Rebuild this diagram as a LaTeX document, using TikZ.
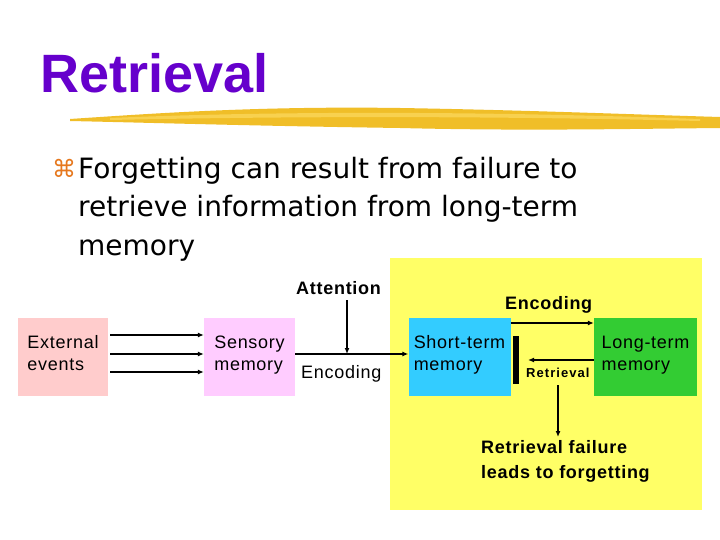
\documentclass[tikz,border=0pt]{standalone}
\usepackage{fontspec}
\setmainfont{Liberation Sans}
\newfontfamily\lab[LetterSpace=4]{Liberation Sans}
\newfontfamily\labwide[LetterSpace=8]{Liberation Sans}
\newfontfamily\body{DejaVu Sans}
\usetikzlibrary{arrows.meta,positioning}
\definecolor{titlepurple}{RGB}{102,0,204}
\definecolor{brushgold}{RGB}{240,190,40}
\definecolor{brushlight}{RGB}{252,218,96}
\definecolor{bulletorange}{RGB}{230,120,30}
\definecolor{bgyellow}{RGB}{255,255,102}
\definecolor{extpink}{RGB}{255,204,204}
\definecolor{senpink}{RGB}{255,204,255}
\definecolor{stmblue}{RGB}{51,204,255}
\definecolor{ltmgreen}{RGB}{51,204,51}

\begin{document}
\begin{tikzpicture}[x=1pt,y=-1pt,
    box/.style={rectangle, inner sep=0pt, minimum height=78pt, align=left, text depth=8pt,
      font=\lab\fontsize{18}{22}\selectfont},
    arr/.style={line width=1.3pt, -{Latex[length=6pt,width=5pt]}},
    lbl/.style={inner sep=0pt, anchor=base west, font=\lab\fontsize{18}{22}\selectfont},
    bodyline/.style={inner sep=0pt, anchor=base west, font=\body\fontsize{28}{34}\selectfont}]
    \useasboundingbox (0,0) rectangle (720,540);
    \fill[white] (0,0) rectangle (720,540);
    % title
    \node[anchor=base west, inner sep=0pt, text=titlepurple, font=\fontsize{54}{60}\selectfont\bfseries] (title) at (40,93) {Retrieval};
    \fill[brushgold] (70,119) .. controls (160,113) and (260,106) .. (400,108) .. controls (520,110) and (620,114) .. (720,117)
        -- (720,128) .. controls (620,129) and (520,131) .. (400,128) .. controls (260,126) and (160,123) .. (70,121) -- cycle;
    \fill[brushlight, opacity=.7] (110,118) .. controls (250,112) and (450,110) .. (700,119)
        -- (700,121) .. controls (450,115) and (250,117) .. (110,120) -- cycle;
    % bullet text
    \node[anchor=base west, inner sep=0pt, text=bulletorange, font=\body\fontsize{24}{28}\selectfont] (bul) at (52,178) {⌘};
    \node[bodyline] (l1) at (78,179) {Forgetting can result from failure to};
    \node[bodyline] (l2) at (78,217) {retrieve information from long-term};
    \node[bodyline] (l3) at (78,255) {memory};
    % diagram
    \fill[bgyellow] (390,258) rectangle (702,510);
    \node[box, fill=extpink, minimum width=90pt] (ext) at (63,357) {External\\events};
    \node[box, fill=senpink, minimum width=91pt] (sen) at (249.5,357) {Sensory\\memory};
    \node[box, fill=stmblue, minimum width=102pt] (stm) at (459.5,357) {Short-term\\memory};
    \node[box, fill=ltmgreen, minimum width=103pt] (ltm) at (645.5,357) {Long-term\\memory};
    \node[fill=black, inner sep=0pt, minimum width=6pt, minimum height=48pt] (bar) at (516,360) {};
    \foreach \dy in {22,3,-15}
        \draw[arr] ([xshift=2pt,yshift=\dy pt]ext.east) -- ([yshift=\dy pt]sen.west);
    \draw[arr] ([yshift=3pt]sen.east) -- ([yshift=3pt]stm.west);
    \node[lbl, font=\lab\fontsize{18}{22}\selectfont\bfseries] (att) at (296,294) {Attention};
    \coordinate (join) at (347,354);
    \draw[arr, shorten <=6pt] (join |- att.south) -- (join);
    \node[lbl] (encl) at (301,378) {Encoding};
    \draw[arr] ([yshift=34pt]stm.east) -- ([yshift=34pt]ltm.west);
    \node[lbl, font=\lab\fontsize{18}{22}\selectfont\bfseries] (encr) at (505,309) {Encoding};
    \coordinate (ret) at (528,360);
    \draw[arr] ([yshift=-3pt]ltm.west) -- (ret);
    \node[lbl, font=\labwide\fontsize{13}{14}\selectfont\bfseries] (retl) at (526,377) {Retrieval};
    \coordinate (drop) at (558,385);
    \node[inner sep=0pt, anchor=north west, align=left, font=\lab\fontsize{18}{25}\selectfont\bfseries] (fail) at (481,440) {Retrieval failure\\leads to forgetting};
    \draw[arr, shorten >=3pt] (drop) -- (drop |- fail.north);
\end{tikzpicture}
\end{document}
